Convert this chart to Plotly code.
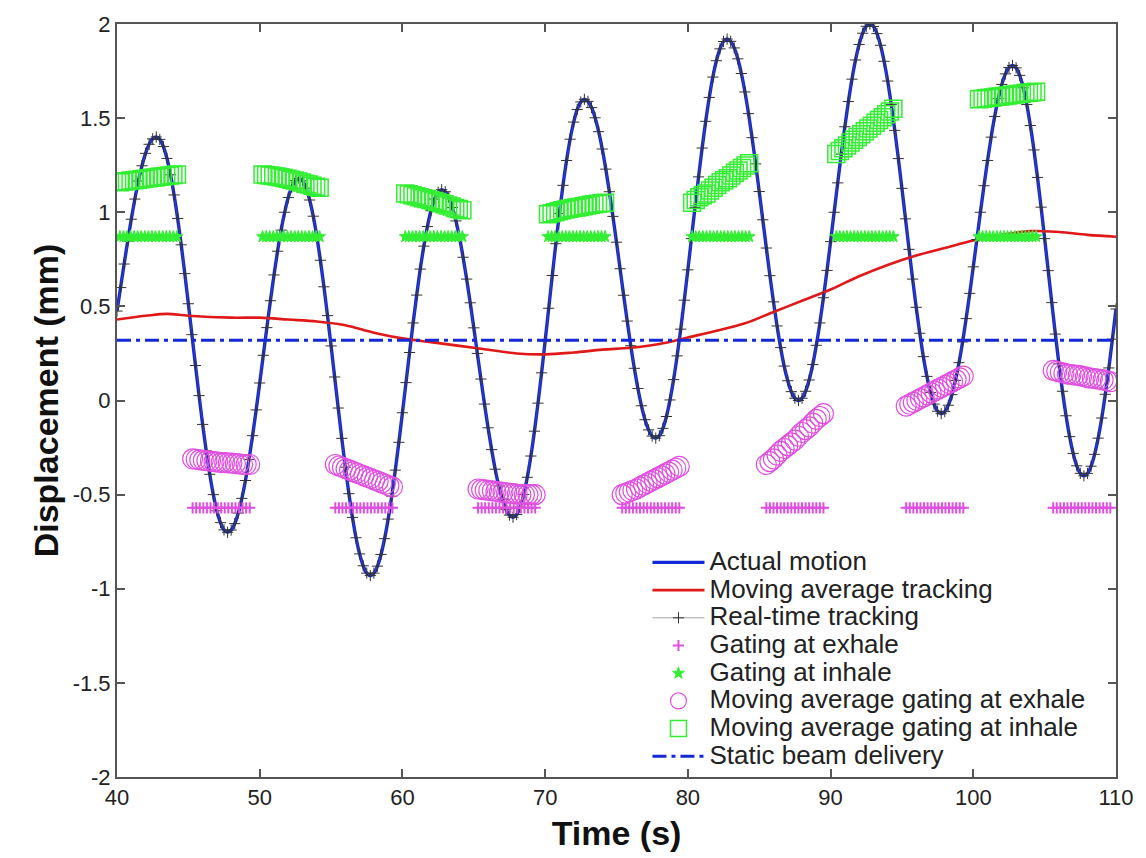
import plotly.graph_objects as go

# ---------------- data ----------------
motion_t0 = 40.0
motion_dt = 0.25
motion_values = [
    0.475, 0.600, 0.725, 0.847, 0.963, 1.070, 1.166, 1.247, 1.313, 1.361, 1.390, 1.400,
    1.387, 1.349, 1.286, 1.199, 1.092, 0.967, 0.827, 0.674, 0.514, 0.350, 0.186, 0.026, -0.127, -0.267, -0.392, -0.500, -0.586, -0.649, -0.687, -0.700,
    -0.688, -0.654, -0.598, -0.520, -0.425, -0.313, -0.187, -0.050, 0.093, 0.240, 0.387, 0.530, 0.667, 0.793, 0.905, 1.000, 1.078, 1.134, 1.168, 1.180,
    1.167, 1.128, 1.065, 0.979, 0.871, 0.745, 0.604, 0.451, 0.290, 0.125, -0.040, -0.201, -0.354, -0.495, -0.621, -0.729, -0.815, -0.878, -0.917, -0.930,
    -0.917, -0.880, -0.818, -0.734, -0.630, -0.508, -0.370, -0.222, -0.065, 0.095, 0.255, 0.412, 0.560, 0.698, 0.820, 0.924, 1.008, 1.070, 1.107, 1.120,
    1.109, 1.078, 1.025, 0.954, 0.865, 0.761, 0.645, 0.519, 0.386, 0.250, 0.114, -0.019, -0.145, -0.261, -0.365, -0.454, -0.525, -0.578, -0.609, -0.620,
    -0.606, -0.566, -0.499, -0.408, -0.295, -0.163, -0.014, 0.147, 0.316, 0.490, 0.664, 0.833, 0.994, 1.143, 1.275, 1.388, 1.479, 1.546, 1.586, 1.600,
    1.589, 1.556, 1.502, 1.428, 1.336, 1.229, 1.109, 0.978, 0.841, 0.700, 0.559, 0.422, 0.291, 0.171, 0.064, -0.028, -0.102, -0.156, -0.189, -0.200,
    -0.187, -0.148, -0.085, 0.003, 0.111, 0.237, 0.379, 0.533, 0.694, 0.860, 1.026, 1.188, 1.341, 1.483, 1.610, 1.718, 1.805, 1.868, 1.907, 1.920,
    1.908, 1.873, 1.815, 1.737, 1.639, 1.524, 1.396, 1.257, 1.110, 0.960, 0.810, 0.663, 0.524, 0.396, 0.281, 0.183, 0.105, 0.047, 0.012, 0.000,
    0.012, 0.049, 0.109, 0.191, 0.293, 0.412, 0.546, 0.691, 0.844, 1.000, 1.156, 1.309, 1.454, 1.588, 1.707, 1.809, 1.891, 1.951, 1.988, 2.000,
    1.987, 1.949, 1.887, 1.802, 1.697, 1.573, 1.435, 1.285, 1.127, 0.965, 0.803, 0.645, 0.495, 0.357, 0.233, 0.128, 0.043, -0.019, -0.057, -0.070,
    -0.059, -0.025, 0.031, 0.107, 0.201, 0.311, 0.435, 0.569, 0.710, 0.855, 1.000, 1.141, 1.275, 1.399, 1.509, 1.603, 1.679, 1.735, 1.769, 1.780,
    1.767, 1.727, 1.661, 1.572, 1.461, 1.331, 1.185, 1.027, 0.860, 0.690, 0.520, 0.353, 0.195, 0.049, -0.081, -0.192, -0.281, -0.347, -0.387, -0.400,
    -0.387, -0.349, -0.286, -0.200, -0.093, 0.033, 0.173, 0.326, 0.486,
]

ma_track_t = [40, 42, 43.5, 45, 48, 50, 52, 54, 56, 58, 60, 62, 64, 66, 68, 70, 72, 74,
              76, 78, 80, 82, 84, 86, 88, 90, 92, 94, 96, 98, 100, 102, 104, 106, 108, 110]
ma_track_v = [0.43, 0.45, 0.46, 0.45, 0.44, 0.44, 0.43, 0.42, 0.40, 0.36, 0.33, 0.31, 0.29, 0.27, 0.25, 0.245, 0.255, 0.27,
              0.28, 0.30, 0.335, 0.37, 0.41, 0.47, 0.53, 0.59, 0.66, 0.72, 0.77, 0.81, 0.85, 0.88, 0.90, 0.895, 0.88, 0.87]

static_level = 0.32
exhale_gate_level = -0.57
inhale_gate_level = 0.87
gate_dt = 0.25
gate_duration = 4.0

inhale_window_start = [40.2, 50.2, 60.2, 70.2, 80.3, 90.4, 100.4]
exhale_window_start = [45.3, 55.3, 65.3, 75.4, 85.5, 95.3, 105.6]

ma_gate_dt = 0.25
ma_inhale_values = [
    [1.160, 1.163, 1.165, 1.168, 1.170, 1.173, 1.175, 1.178, 1.180, 1.183, 1.185, 1.188, 1.190, 1.193, 1.195, 1.198, 1.200],
    [1.200, 1.198, 1.195, 1.193, 1.190, 1.186, 1.182, 1.178, 1.173, 1.168, 1.163, 1.158, 1.152, 1.147, 1.141, 1.136, 1.130],
    [1.100, 1.095, 1.090, 1.085, 1.080, 1.075, 1.070, 1.065, 1.060, 1.054, 1.048, 1.042, 1.036, 1.030, 1.023, 1.017, 1.010],
    [0.990, 0.995, 1.000, 1.005, 1.010, 1.014, 1.018, 1.022, 1.025, 1.028, 1.032, 1.036, 1.040, 1.042, 1.045, 1.048, 1.050],
    [1.050, 1.065, 1.080, 1.090, 1.100, 1.115, 1.130, 1.145, 1.160, 1.170, 1.180, 1.195, 1.210, 1.222, 1.235, 1.248, 1.260],
    [1.310, 1.325, 1.340, 1.355, 1.370, 1.385, 1.400, 1.415, 1.430, 1.445, 1.460, 1.475, 1.490, 1.505, 1.520, 1.535, 1.550],
    [1.600, 1.603, 1.605, 1.608, 1.610, 1.613, 1.615, 1.618, 1.620, 1.623, 1.625, 1.628, 1.630, 1.633, 1.635, 1.638, 1.640],
]
ma_exhale_values = [
    [-0.310, -0.312, -0.315, -0.318, -0.320, -0.322, -0.325, -0.327, -0.330, -0.330, -0.332, -0.333, -0.335, -0.337, -0.340, -0.340, -0.340],
    [-0.340, -0.348, -0.355, -0.363, -0.370, -0.378, -0.385, -0.393, -0.400, -0.408, -0.415, -0.423, -0.430, -0.438, -0.445, -0.453, -0.460],
    [-0.470, -0.473, -0.475, -0.478, -0.480, -0.483, -0.485, -0.488, -0.490, -0.493, -0.495, -0.498, -0.500, -0.500, -0.500, -0.500, -0.500],
    [-0.500, -0.493, -0.485, -0.478, -0.470, -0.460, -0.450, -0.440, -0.430, -0.420, -0.410, -0.400, -0.390, -0.380, -0.370, -0.360, -0.350],
    [-0.340, -0.325, -0.310, -0.290, -0.270, -0.255, -0.240, -0.225, -0.210, -0.190, -0.170, -0.155, -0.140, -0.120, -0.100, -0.085, -0.070],
    [-0.030, -0.020, -0.010, 0.000, 0.010, 0.020, 0.030, 0.040, 0.050, 0.060, 0.070, 0.080, 0.090, 0.100, 0.110, 0.120, 0.130],
    [0.160, 0.155, 0.150, 0.145, 0.140, 0.138, 0.135, 0.133, 0.130, 0.125, 0.120, 0.118, 0.115, 0.113, 0.110, 0.105, 0.100],
]

x_ticks = [40, 50, 60, 70, 80, 90, 100, 110]
y_ticks = [-2, -1.5, -1, -0.5, 0, 0.5, 1, 1.5, 2]
y_tick_text = ["-2", "-1.5", "-1", "-0.5", "0", "0.5", "1", "1.5", "2"]

# ---------------- assemble ----------------
motion_t = [motion_t0 + motion_dt * i for i in range(len(motion_values))]

n_gate = int(round(gate_duration / gate_dt)) + 1

def gate_series(starts, level):
    xs, ys = [], []
    for s in starts:
        for i in range(n_gate):
            xs.append(s + gate_dt * i)
            ys.append(level)
        xs.append(None)
        ys.append(None)
    return xs, ys

def ma_series(starts, vals):
    xs, ys = [], []
    for s, vv in zip(starts, vals):
        for i, v in enumerate(vv):
            xs.append(s + ma_gate_dt * i)
            ys.append(v)
    return xs, ys

ex_x, ex_y = gate_series(exhale_window_start, exhale_gate_level)
in_x, in_y = gate_series(inhale_window_start, inhale_gate_level)
mae_x, mae_y = ma_series(exhale_window_start, ma_exhale_values)
mai_x, mai_y = ma_series(inhale_window_start, ma_inhale_values)

BLUE = "#1428d8"
RED = "#e01818"
MAGENTA = "#e050e0"
GREEN = "#33ee33"
FONT = "Liberation Sans, Arial"

def lg(name):
    return f"<span style='font-size:26px'>{name}</span>"

fig = go.Figure()

fig.add_trace(go.Scatter(x=motion_t, y=motion_values, mode="lines", name=lg("Actual motion"),
                         line=dict(color=BLUE, width=3.4, shape="spline")))
fig.add_trace(go.Scatter(x=ma_track_t, y=ma_track_v, mode="lines", name=lg("Moving average tracking"),
                         line=dict(color=RED, width=2.6, shape="spline")))
fig.add_trace(go.Scatter(x=motion_t, y=motion_values, mode="lines+markers", name=lg("Real-time tracking"),
                         line=dict(color="rgba(90,90,90,0.7)", width=0.8),
                         marker=dict(symbol="cross-thin", size=8, color="#333333",
                                     line=dict(color="#333333", width=1))))
fig.add_trace(go.Scatter(x=ex_x, y=ex_y, mode="markers", name=lg("Gating at exhale"),
                         marker=dict(symbol="cross-thin", size=8, color=MAGENTA,
                                     line=dict(color=MAGENTA, width=2))))
fig.add_trace(go.Scatter(x=in_x, y=in_y, mode="markers", name=lg("Gating at inhale"),
                         marker=dict(symbol="star", size=9, color=GREEN,
                                     line=dict(color=GREEN, width=1))))
fig.add_trace(go.Scatter(x=mae_x, y=mae_y, mode="markers", name=lg("Moving average gating at exhale"),
                         marker=dict(symbol="circle-open", size=20, color=MAGENTA,
                                     line=dict(color=MAGENTA, width=1.2))))
fig.add_trace(go.Scatter(x=mai_x, y=mai_y, mode="markers", name=lg("Moving average gating at inhale"),
                         marker=dict(symbol="square-open", size=17, color=GREEN,
                                     line=dict(color=GREEN, width=1.5))))
fig.add_trace(go.Scatter(x=[x_ticks[0], x_ticks[-1]], y=[static_level, static_level], mode="lines",
                         name=lg("Static beam delivery"),
                         line=dict(color=BLUE, width=3, dash="14px,5px,4px,5px")))

axis_common = dict(showline=True, linecolor="#555555", linewidth=2, mirror="ticks",
                   ticks="inside", ticklen=8, tickwidth=1.5, tickcolor="#555555",
                   showgrid=False, zeroline=False,
                   tickfont=dict(family=FONT, size=22, color="#222222"))

fig.update_layout(
    width=1146, height=858,
    margin=dict(l=117, r=26, t=20, b=78),
    paper_bgcolor="white", plot_bgcolor="white",
    xaxis=dict(range=[40, 110], tickvals=x_ticks,
               title=dict(text="<b>Time (s)</b>", standoff=12,
                          font=dict(family=FONT, size=34, color="#111111")),
               **axis_common),
    yaxis=dict(range=[-2, 2], tickvals=y_ticks, ticktext=y_tick_text,
               title=dict(text="<b>Displacement (mm)</b>", standoff=4,
                          font=dict(family=FONT, size=34, color="#111111")),
               **axis_common),
    legend=dict(x=0.531, y=0.31, xanchor="left", yanchor="top",
                bgcolor="rgba(255,255,255,0)", borderwidth=0,
                font=dict(family=FONT, size=19, color="#222222"),
                itemwidth=52, tracegroupgap=0),
    showlegend=True,
)

fig.write_html("out.html")
